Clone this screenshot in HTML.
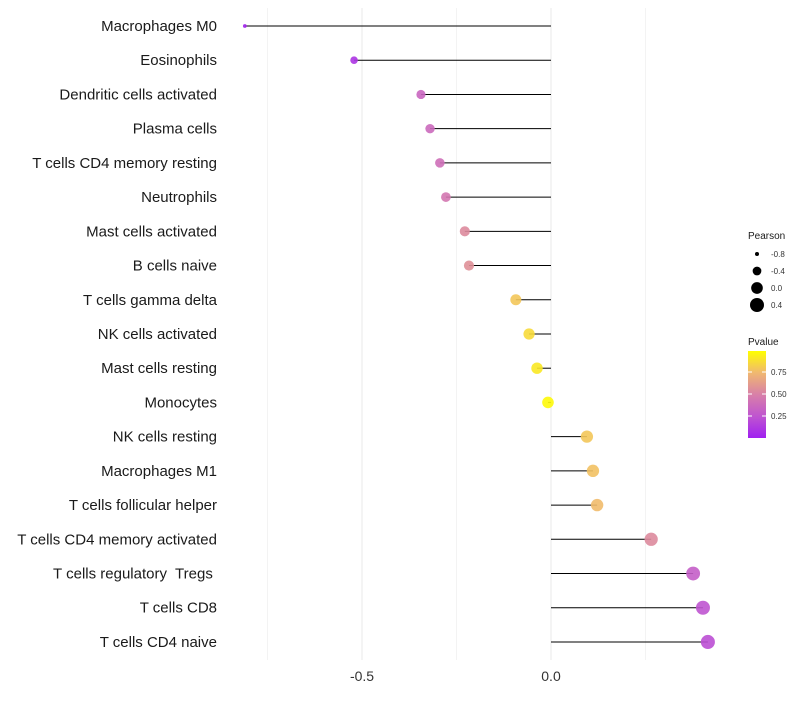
<!DOCTYPE html>
<html><head><meta charset="utf-8"><style>
body{margin:0;background:#fff;font-family:"Liberation Sans",sans-serif}
svg text{font-family:"Liberation Sans",sans-serif;white-space:pre}
</style></head><body>
<svg id="chart" width="800" height="700"></svg>
<script>
const categories=["Macrophages M0","Eosinophils","Dendritic cells activated","Plasma cells","T cells CD4 memory resting","Neutrophils","Mast cells activated","B cells naive","T cells gamma delta","NK cells activated","Mast cells resting","Monocytes","NK cells resting","Macrophages M1","T cells follicular helper","T cells CD4 memory activated","T cells regulatory  Tregs ","T cells CD8","T cells CD4 naive"];
const pearson=[-0.81,-0.521,-0.344,-0.32,-0.294,-0.278,-0.228,-0.217,-0.093,-0.058,-0.037,-0.008,0.095,0.111,0.122,0.265,0.376,0.402,0.415];
const pvalue=[0.02,0.1,0.35,0.37,0.4,0.45,0.55,0.57,0.8,0.87,0.92,0.98,0.8,0.78,0.76,0.55,0.3,0.25,0.22];
const xTicks=[-0.5,0.0];
const xTickLabels=["-0.5","0.0"];
const sizeLegend=[-0.8,-0.4,0.0,0.4];
const colorTicks=[0.25,0.5,0.75];

const NS="http://www.w3.org/2000/svg";
const svg=document.getElementById("chart");
function mk(t,a,p){const e=document.createElementNS(NS,t);for(const k in a)e.setAttribute(k,a[k]);(p||svg).appendChild(e);return e;}
const x=v=>551+v*378;
const y=i=>26+i*34.22;
const r=v=>Math.sqrt(Math.max(1,34+37.5*v));
const stops=[[0,[160,32,240]],[0.25,[191,85,208]],[0.5,[216,128,168]],[0.75,[240,184,112]],[1,[255,255,0]]];
function col(p){for(let i=0;i<stops.length-1;i++){const[a,ca]=stops[i],[b,cb]=stops[i+1];if(p<=b){const t=(p-a)/(b-a);return "rgb("+ca.map((c,j)=>Math.round(c+(cb[j]-c)*t)).join(",")+")";}}return "rgb(255,255,0)";}

[-0.75,-0.5,-0.25,0,0.25].forEach(v=>{const g=mk("line",{x1:x(v),x2:x(v),y1:8,y2:660,stroke:"#ebebeb","stroke-width":v%0.5===0?1.1:0.6});

});
categories.forEach((c,i)=>{
 const t=mk("text",{x:217,y:y(i)+5,"text-anchor":"end","font-size":15,fill:"#1a1a1a"});t.textContent=c;
 
 
 const l=mk("line",{x1:x(0),x2:x(pearson[i]),y1:y(i),y2:y(i),stroke:"#000","stroke-width":1});
 
 
 const d=mk("circle",{cx:x(pearson[i]),cy:y(i),r:r(pearson[i]),fill:col(pvalue[i]),"fill-opacity":0.9});
 
 
});
xTicks.forEach((v,i)=>{const t=mk("text",{x:x(v),y:681,"text-anchor":"middle","font-size":14,fill:"#333"});t.textContent=xTickLabels[i];

});
const lt=mk("text",{x:748,y:239,"font-size":10,fill:"#1a1a1a"});lt.textContent="Pearson";


sizeLegend.forEach((v,i)=>{const cy=254+i*17;
 const c=mk("circle",{cx:757,cy:cy,r:r(v),fill:"#000"});
 
 
 const t=mk("text",{x:771,y:cy+3,"font-size":8,fill:"#333"});t.textContent=v.toFixed(1);
 
 });
const ct=mk("text",{x:748,y:345,"font-size":10,fill:"#1a1a1a"});ct.textContent="Pvalue";


const defs=mk("defs",{});const gr=mk("linearGradient",{id:"pg",x1:0,y1:1,x2:0,y2:0},defs);
stops.forEach(s=>mk("stop",{offset:s[0],"stop-color":col(s[0])},gr));
const bar=mk("rect",{x:748,y:351,width:18,height:87,fill:"url(#pg)"});


colorTicks.forEach(v=>{const cy=438-v*88;
 mk("line",{x1:748,x2:752,y1:cy,y2:cy,stroke:"#fff"});mk("line",{x1:762,x2:766,y1:cy,y2:cy,stroke:"#fff"});
 const t=mk("text",{x:771,y:cy+3,"font-size":8,fill:"#333"});t.textContent=v.toFixed(2);
 
 });
</script>
</body></html>
